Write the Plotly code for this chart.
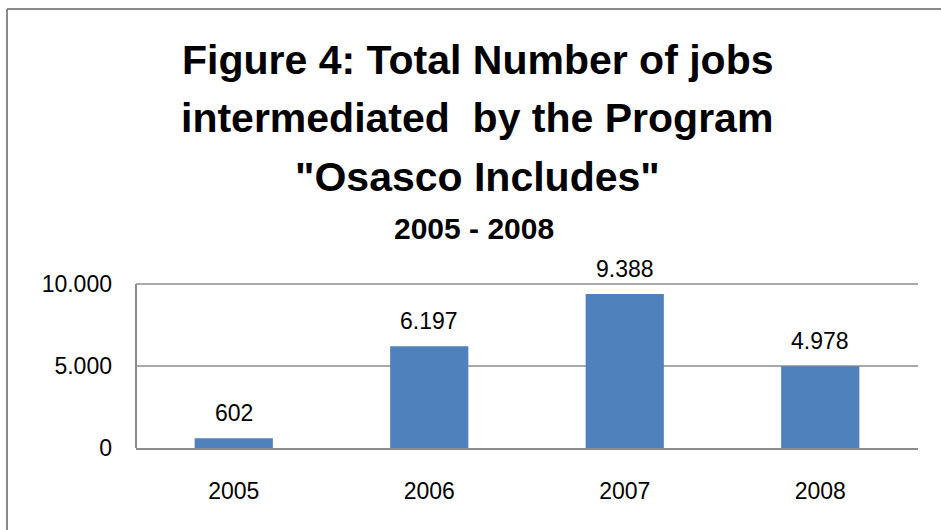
import plotly.graph_objects as go

years = ["2005", "2006", "2007", "2008"]
jobs = [602, 6197, 9388, 4978]
y_tickvals = [0, 5000, 10000]
y_ticktext = ["0", "5.000", "10.000"]
title_lines = ["Figure 4: Total Number of jobs",
               "intermediated&nbsp; by the Program",
               "\"Osasco Includes\""]
subtitle = "2005 - 2008"

FONT = "'Liberation Sans', Arial, sans-serif"
W, H = 941, 530
L, R, T, B = 136, 23, 281, 82
PW, PH = W - L - R, H - T - B
YMAX = 10000 * PH / 164.0


def px_x(px):
    return (px - L) / PW


def px_y(py):
    return (H - B - py) / PH


fig = go.Figure(go.Bar(
    x=years, y=jobs, marker=dict(color="#4F81BD", line=dict(width=0)),
    width=0.4, hoverinfo="skip",
))

annotations = []
for i, yv in enumerate(jobs):
    annotations.append(dict(
        x=i, y=yv, xref="x", yref="y", text=f"{yv:,}".replace(",", "."),
        showarrow=False, yanchor="bottom", yshift=10,
        font=dict(family=FONT, size=23, color="#000000"),
    ))

title_centers = [60, 118, 177]
for line, cy in zip(title_lines, title_centers):
    annotations.append(dict(
        x=px_x(477), y=px_y(cy), xref="paper", yref="paper", text=f"<b>{line}</b>",
        showarrow=False, xanchor="center", yanchor="middle",
        font=dict(family=FONT, size=41, color="#000000"),
    ))
annotations.append(dict(
    x=px_x(474), y=px_y(228), xref="paper", yref="paper", text=f"<b>{subtitle}</b>",
    showarrow=False, xanchor="center", yanchor="middle",
    font=dict(family=FONT, size=30, color="#000000"),
))

border_color = "#898989"
grid_color = "#8c8c8c"
shapes = [
    dict(type="line", xref="paper", yref="paper", x0=px_x(7), x1=px_x(960),
         y0=px_y(9), y1=px_y(9), line=dict(color=border_color, width=2)),
    dict(type="line", xref="paper", yref="paper", x0=px_x(7), x1=px_x(7),
         y0=px_y(9), y1=px_y(560), line=dict(color=border_color, width=2)),
    dict(type="line", xref="paper", yref="y", x0=0, x1=0,
         y0=y_tickvals[0], y1=y_tickvals[-1],
         line=dict(color=grid_color, width=2)),
]
for tv in y_tickvals[1:]:
    shapes.append(dict(type="line", xref="paper", yref="y", x0=0, x1=1,
                       y0=tv, y1=tv, layer="below",
                       line=dict(color=grid_color, width=1.5)))

fig.update_layout(
    width=W, height=H,
    margin=dict(l=L, r=R, t=T, b=B, pad=0),
    paper_bgcolor="white", plot_bgcolor="white",
    showlegend=False,
    annotations=annotations,
    shapes=shapes,
    font=dict(family=FONT, size=23, color="#000000"),
    xaxis=dict(
        type="category", range=[-0.5, len(years) - 0.5],
        showgrid=False, showline=True, linecolor=grid_color,
        linewidth=2, ticks="", tickfont=dict(family=FONT, size=23, color="#000000"),
        ticklabelstandoff=21, fixedrange=True,
    ),
    yaxis=dict(
        range=[0, YMAX], tickvals=y_tickvals, ticktext=y_ticktext,
        showgrid=False, showline=False, zeroline=False,
        ticks="", tickfont=dict(family=FONT, size=23, color="#000000"),
        ticklabelstandoff=23, fixedrange=True,
    ),
)

fig.write_html("out.html", config={"displayModeBar": False})
